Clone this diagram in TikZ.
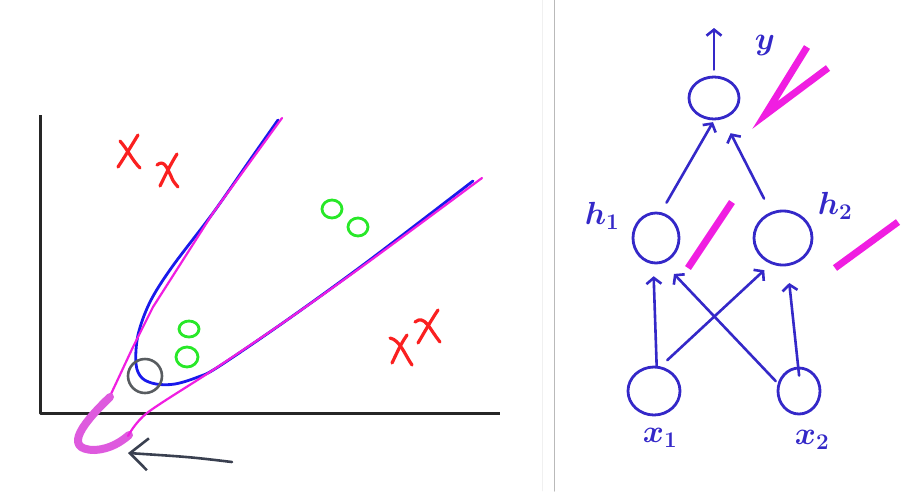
\documentclass[tikz,border=0pt]{standalone}
\usepackage{fix-cm}
\usepackage{amsmath}
\usetikzlibrary{arrows.meta,shapes.geometric}
\definecolor{inkblue}{RGB}{52,40,200}
\definecolor{fitblue}{RGB}{25,25,235}
\definecolor{penpink}{RGB}{240,30,225}
\definecolor{smearpink}{RGB}{222,90,222}
\definecolor{markred}{RGB}{250,32,32}
\definecolor{markgreen}{RGB}{40,232,40}
\definecolor{ringgrey}{RGB}{88,92,96}
\definecolor{arrowgrey}{RGB}{58,64,80}
\tikzset{
    sketch/.style     = {x=1pt, y=-1pt, line cap=round, line join=round,
                         >={Straight Barb[length=6pt, width=15pt]}},
    axisline/.style   = {line width=3pt, black!85, line cap=butt},
    fitcurve/.style   = {line width=2.8pt, fitblue},
    overfit/.style    = {line width=2.2pt, penpink},
    smear/.style      = {line width=8pt, smearpink},
    xstroke/.style    = {line width=3.2pt, markred},
    ovalring/.style   = {line width=2.8pt, markgreen},
    neuron/.style     = {draw=inkblue, line width=2.8pt, ellipse,
                         inner sep=0pt},
    link/.style       = {->, line width=2.6pt, inkblue},
    unitlabel/.style  = {inkblue, font=\fontsize{32}{36}\selectfont\boldmath},
    slash/.style      = {line width=7pt, penpink, line cap=butt,
                         line join=miter},
}

\begin{document}
\begin{tikzpicture}[sketch]
\useasboundingbox (0,0) rectangle (905,491);

% Axes of the decision boundary plot.
\coordinate (ytop) at (40,115);
\coordinate (origin) at (40,413);
\coordinate (xend) at (500,413);
\draw[axisline] (ytop) -- (origin) -- (xend);

% Learned boundary and the boundary a linear model would give.
\draw[fitcurve] plot[smooth, tension=0.55] coordinates {
    (278,120) (250,160) (213,213) (172,267) (150,302) (138,335)
    (136,364) (142,378) (156,384) (175,384) (198,377) (218,367)
    (287,320) (367,262) (473,181)};
\draw[overfit] (282,118) -- (213,213) -- (153,307) -- (133,347)
    -- (111,394);
\draw[smear] (110,397) .. controls (86,420) and (60,450) .. (95,450)
    .. controls (110,449) and (121,442) .. (129,435);
\draw[overfit] plot[smooth] coordinates {
    (128,436) (147,413) (213,370) (287,320) (367,263) (482,178)};

% Negative examples.
\draw[xstroke] (120,141) .. controls (128,150) and (132,160) .. (140,168);
\draw[xstroke] (138,135) .. controls (130,148) and (124,158) .. (118,167);
\draw[xstroke] (157,165) .. controls (164,159) and (167,168) .. (171,176)
    .. controls (173,181) .. (178,187);
\draw[xstroke] (177,154) .. controls (170,165) and (165,176) .. (160,186);
\draw[xstroke] (390,338) .. controls (400,340) and (405,355) .. (412,365);
\draw[xstroke] (407,335) .. controls (400,345) and (396,355) .. (392,363);
\draw[xstroke] (415,322) .. controls (425,314) and (430,330) .. (440,342);
\draw[xstroke] (438,310) .. controls (430,322) and (424,333) .. (418,343);

% Positive examples.
\foreach \ox/\oy/\rx/\ry in {332/209/10/9, 358/227/10/9,
                             189/329/10/8, 187/357/11/10}
    \draw[ovalring] (\ox,\oy) ellipse [x radius=\rx, y radius=\ry];

% Kink in the boundary and the arrow pointing at the tail.
\node[draw=ringgrey, line width=2.6pt, circle, minimum size=34pt,
    inner sep=0pt] (kink) at (145,376) {};
\coordinate (pointtail) at (232,462);
\coordinate (pointtip) at (128,453);
\draw[line width=2.6pt, arrowgrey,
    -{Straight Barb[length=18pt, width=32pt]}]
    (pointtail) .. controls (190,457) .. (pointtip);

% Divider between the two panels.
\draw[gray!12, line width=0.8pt] (542,0) -- (542,491);
\draw[gray!55, line width=1pt] (554,0) -- (554,491);

% Two-layer network.
\node[neuron, minimum width=50pt, minimum height=42pt] (y) at (714,98) {};
\node[neuron, minimum width=46pt, minimum height=50pt] (h1) at (656,238) {};
\node[neuron, minimum width=58pt, minimum height=54pt] (h2) at (783,238) {};
\node[neuron, minimum width=52pt, minimum height=48pt] (x1) at (654,391) {};
\node[neuron, minimum width=42pt, minimum height=46pt] (x2) at (799,391) {};

\node[unitlabel] (ylab) at (765,45) {$y$};
\node[unitlabel] (h1lab) at (602,216) {$h_1$};
\node[unitlabel] (h2lab) at (835,206) {$h_2$};
\node[unitlabel] (x1lab) at (660,438) {$x_1$};
\node[unitlabel] (x2lab) at (812,440) {$x_2$};

\draw[link, shorten >=12pt] (x1.84) -- (h1.264);
\draw[link, shorten <=9pt, shorten >=9pt] (x1.75) -- (h2.245);
\draw[link, shorten <=3pt, shorten >=15pt] (x2.160) -- (h1.287);
\draw[link, shorten <=-9pt, shorten >=17pt] (x2.92) -- (h2.279);
\draw[link, shorten <=11pt, shorten >=2pt] (h1.79) -- (y.270);
\draw[link, shorten <=15pt, shorten >=16pt] (h2.115) -- (y.294);
\coordinate (yout) at (714,28);
\draw[link, shorten <=6pt] (y.north) -- (yout);

% Linear decision boundaries each unit draws.
\draw[slash] (807,47) -- (765,115) -- (828,68);
\draw[slash] (732,202) -- (688,268);
\draw[slash] (898,222) -- (835,268);

\end{tikzpicture}
\end{document}
